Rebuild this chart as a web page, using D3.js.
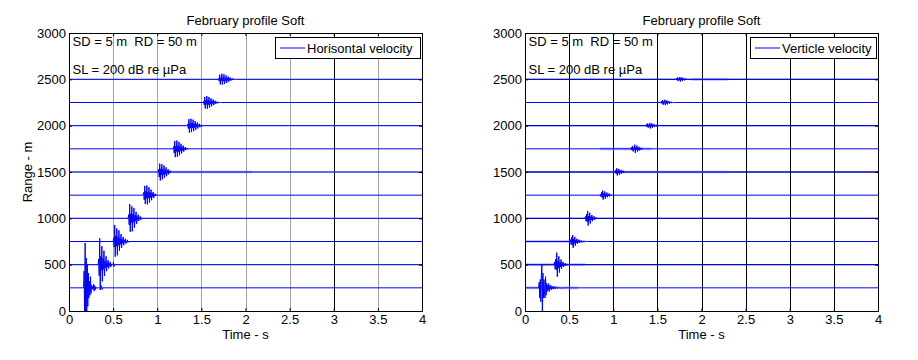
<!DOCTYPE html>
<html>
<head>
<meta charset="utf-8">
<script src="https://cdn.jsdelivr.net/npm/d3@7"></script>
<style>
  html, body { margin: 0; padding: 0; background: #fff; }
  svg { display: block; }
  text { font-family: "Liberation Sans", Arial, sans-serif; fill: #000; white-space: pre; }
</style>
</head>
<body>
<svg id="chart" width="918" height="360"></svg>
<script>
// ---------------- data ----------------
const chartTitle = "February profile Soft";
const timeTicks = [0, 0.5, 1, 1.5, 2, 2.5, 3, 3.5, 4];
const rangeTicks = [0, 500, 1000, 1500, 2000, 2500, 3000];
const traceRanges = [250, 500, 750, 1000, 1250, 1500, 1750, 2000, 2250, 2500];
const sampleStep = 0.006; // s between samples of each burst

// Horizontal velocity: arrival time (s) of each trace
const hOnsets = [0.165, 0.33, 0.50, 0.67, 0.84, 1.01, 1.18, 1.34, 1.52, 1.69];
// Horizontal velocity: burst samples (offset in m from trace range)
const hBursts = [
  [0, 180, -300, 484, -300, 320, -260, 250, -200, 160, -110, 70, -80, 120, -60, 30, -20, 15, -10, 40, -35, 25, -20, 8, -6, 4, -3, 0, 0, 0, 0, 0, 0, 0, 22, -18, 0],
  [0, 60, -120, 285, -273, 90, -60, 200, -180, 70, -50, 150, -120, 40, -30, 90, -70, 25, -20, 50, -40, 15, -10, 30, -25, 8, -6, 0, 0, 28, -22, 0],
  [0, 40, -60, 178, -164, 60, -50, 140, -150, 50, -40, 120, -100, 35, -30, 80, -70, 25, -20, 50, -40, 12, -10, 30, -25, 6, -5, 18, -12, 0],
  [0, 40, -70, 154, -145, 50, -45, 130, -140, 45, -40, 110, -100, 35, -30, 70, -60, 20, -15, 40, -30, 10, -8, 20, -15, 5, 0],
  [0, 30, -50, 100, -95, 40, -35, 105, -100, 35, -30, 85, -80, 30, -25, 60, -55, 20, -15, 35, -30, 10, -8, 15, -10, 4, 0],
  [0, 30, -55, 90, -92, 35, -30, 85, -80, 30, -28, 70, -65, 25, -20, 50, -45, 15, -12, 30, -25, 8, -6, 14, -10, 3, 0],
  [0, 25, -45, 85, -90, 30, -28, 90, -85, 32, -30, 75, -70, 25, -22, 55, -50, 18, -15, 35, -30, 10, -8, 18, -14, 5, -4, 8, -6, 2, 0],
  [0, 18, -30, 70, -75, 25, -22, 75, -70, 28, -25, 65, -60, 22, -20, 50, -45, 16, -14, 35, -30, 10, -8, 20, -16, 6, -5, 10, -8, 3, -2, 0],
  [0, 12, -25, 60, -65, 22, -20, 70, -68, 25, -22, 60, -55, 20, -18, 45, -42, 15, -12, 32, -28, 10, -8, 18, -15, 6, -5, 10, -8, 4, -3, 5, -4, 2, -1, 0],
  [0, 10, -20, 50, -55, 18, -15, 60, -58, 20, -18, 55, -50, 18, -15, 42, -40, 14, -12, 30, -26, 10, -8, 18, -15, 6, -5, 10, -8, 4, -3, 5, -4, 2, -1, 0]
];
// Horizontal velocity: faint noisy stretches [range, start s, end s]
const hNoise = [[1500, 1.17, 2.07]];

// Vertical velocity: arrival time (s) of each trace
const vOnsets = [0.155, 0.33, 0.51, 0.68, 0.85, 1.01, 1.19, 1.36, 1.53, 1.70];
// Vertical velocity: burst samples (offset in m from trace range)
const vBursts = [
  [0, 60, -110, 90, -150, 130, 247, -300, 160, -110, 90, -70, -110, 120, -80, 50, -40, 30, -25, 45, -40, 15, -10, 28, -22, 8, -6, 18, -14, 5, -4, 14, -10, 0, 0, 10, -8, 0, 0, 0, 6, -5, 0, 0, 0, 0, 5, -4, 0],
  [0, 30, -50, 60, -55, 130, -130, 40, -35, 90, -85, 30, -25, 55, -45, 15, -12, 30, -25, 8, -6, 15, -12, 4, -3, 8, -6, 0],
  [0, 20, -30, 45, -40, 70, -68, 25, -20, 50, -45, 18, -15, 30, -25, 10, -8, 20, -15, 6, -5, 10, -8, 3, -2, 6, -4, 0, 0, 5, -4, 0],
  [0, 20, -30, 45, -40, 80, -78, 25, -22, 60, -55, 20, -18, 35, -30, 12, -10, 22, -16, 6, -5, 10, -8, 3, 0],
  [0, 12, -18, 30, -25, 50, -48, 18, -15, 40, -38, 15, -12, 28, -22, 10, -8, 18, -14, 5, -4, 8, -6, 2, 0],
  [0, 8, -12, 22, -18, 40, -38, 14, -12, 34, -30, 12, -10, 22, -18, 8, -6, 14, -10, 4, -3, 6, -4, 2, 0],
  [0, 6, -10, 18, -15, 30, -28, 12, -10, 45, -44, 15, -12, 35, -30, 12, -10, 22, -18, 6, -5, 12, -10, 4, -3, 6, -4, 2, -1, 0],
  [0, 5, -8, 14, -12, 24, -22, 10, -8, 30, -30, 12, -10, 26, -22, 8, -6, 16, -13, 5, -4, 10, -8, 3, -2, 5, -3, 1, 0],
  [0, 5, -8, 15, -12, 25, -24, 10, -8, 30, -29, 12, -10, 24, -20, 8, -6, 15, -12, 5, -4, 9, -7, 3, -2, 4, -3, 0],
  [0, 4, -6, 12, -10, 20, -18, 8, -6, 25, -25, 10, -8, 22, -18, 7, -6, 14, -11, 4, -3, 8, -6, 3, -2, 4, -3, 1, 0]
];
// Vertical velocity: faint noisy stretches [range, start s, end s]
const vNoise = [[250, 0, 0.6], [500, 0, 0.68], [750, 0, 0.68], [1500, 0.85, 2.3], [1750, 0.85, 1.43], [2500, 1.88, 2.3]];

const annotations = ["SD = 5 m  RD = 50 m", "SL = 200 dB re \u00B5Pa"];
const annotationPos = [[0.04, 2860], [0.04, 2555]];

const panels = [
  { legend: "Horisontal velocity", onsets: hOnsets, bursts: hBursts, noise: hNoise,
    left: 69, right: 422, ylabel: "Range - m", gridColor: "#a0a0a0", darkGrid: [3],
    legendBox: [275, 37, 145, 21] },
  { legend: "Verticle velocity", onsets: vOnsets, bursts: vBursts, noise: vNoise,
    left: 525, right: 878, ylabel: null, gridColor: "#000", darkGrid: [],
    legendBox: [750, 37, 126, 21] }
];

// ---------------- drawing ----------------
const svg = d3.select("#chart");
const plotTop = 33, plotBottom = 311;
const blue = "#0000ff";

panels.forEach((p, pi) => {
  const x = d3.scaleLinear().domain([0, 4]).range([p.left, p.right]);
  const y = d3.scaleLinear().domain([0, 3000]).range([plotBottom, plotTop]);
  const g = svg.append("g");
  const clipId = "clip" + pi;
  svg.append("defs").append("clipPath").attr("id", clipId)
    .append("rect").attr("x", p.left).attr("y", plotTop)
    .attr("width", p.right - p.left).attr("height", plotBottom - plotTop);

  // grid
  g.append("g").selectAll("line").data(timeTicks.slice(1, -1)).join("line")
    .attr("x1", d => Math.round(x(d)) + 0.5).attr("x2", d => Math.round(x(d)) + 0.5)
    .attr("y1", plotTop).attr("y2", plotBottom)
    .attr("stroke", d => p.darkGrid.includes(d) ? "#000" : p.gridColor)
    .attr("stroke-width", 1);
  g.append("g").selectAll("line").data(rangeTicks.slice(1, -1)).join("line")
    .attr("x1", p.left).attr("x2", p.right)
    .attr("y1", d => y(d)).attr("y2", d => y(d))
    .attr("stroke", p.gridColor).attr("stroke-width", 1);

  const plot = g.append("g").attr("clip-path", `url(#${clipId})`);

  // faint noisy stretches
  plot.append("g").selectAll("line").data(p.noise).join("line")
    .attr("x1", d => x(d[1])).attr("x2", d => x(d[2]))
    .attr("y1", d => y(d[0])).attr("y2", d => y(d[0]))
    .attr("stroke", "#7f7fff").attr("stroke-opacity", 0.55).attr("stroke-width", 2.6);

  // traces
  const line = d3.line().x(d => x(d[0])).y(d => y(d[1]));
  traceRanges.forEach((r, i) => {
    const t0 = p.onsets[i];
    const pts = [[0, r], [t0, r]];
    p.bursts[i].forEach((v, k) => pts.push([t0 + k * sampleStep, r + v]));
    pts.push([4, r]);
    plot.append("path").attr("d", line(pts))
      .attr("fill", "none").attr("stroke", blue).attr("stroke-width", 1)
      .attr("stroke-linejoin", "miter");
  });

  // axes
  const styleAxis = a => {
    a.select(".domain").attr("stroke", "#000");
    a.selectAll(".tick line").attr("stroke", "#000");
    a.selectAll("text").attr("font-size", 13).attr("font-family", "Liberation Sans, Arial, sans-serif").attr("fill", "#000");
  };
  const xb = d3.axisBottom(x).tickValues(timeTicks).tickFormat(d3.format("")).tickSize(-3).tickPadding(4);
  const xt = d3.axisTop(x).tickValues(timeTicks).tickFormat("").tickSize(-3);
  const yl = d3.axisLeft(y).tickValues(rangeTicks).tickFormat(d3.format("")).tickSize(-3).tickPadding(3);
  const yr = d3.axisRight(y).tickValues(rangeTicks).tickFormat("").tickSize(-3);
  styleAxis(g.append("g").attr("transform", `translate(0,${plotBottom})`).call(xb));
  styleAxis(g.append("g").attr("transform", `translate(0,${plotTop})`).call(xt));
  styleAxis(g.append("g").attr("transform", `translate(${p.left},0)`).call(yl));
  styleAxis(g.append("g").attr("transform", `translate(${p.right},0)`).call(yr));

  // title and labels
  const cx = (p.left + p.right) / 2;
  g.append("text").attr("x", cx).attr("y", 25).attr("text-anchor", "middle")
    .attr("font-size", 13).text(chartTitle);
  g.append("text").attr("x", cx).attr("y", 339).attr("text-anchor", "middle")
    .attr("font-size", 13).text("Time - s");
  if (p.ylabel) {
    g.append("text").attr("transform", `translate(32,${(plotTop + plotBottom) / 2}) rotate(-90)`)
      .attr("text-anchor", "middle").attr("font-size", 13).text(p.ylabel);
  }

  // annotations
  annotations.forEach((a, k) => {
    g.append("text").attr("x", x(annotationPos[k][0])).attr("y", y(annotationPos[k][1]))
      .attr("font-size", 13).text(a);
  });

  // legend
  const [lx, ly, lw, lh] = p.legendBox;
  g.append("rect").attr("x", lx + 0.5).attr("y", ly + 0.5).attr("width", lw).attr("height", lh)
    .attr("fill", "#fff").attr("stroke", "#000");
  g.append("line").attr("x1", lx + 5).attr("x2", lx + 30).attr("y1", ly + lh / 2 + 0.5).attr("y2", ly + lh / 2 + 0.5)
    .attr("stroke", blue);
  g.append("text").attr("x", lx + 32).attr("y", ly + lh / 2 + 5).attr("font-size", 13).text(p.legend);
});
</script>
</body>
</html>
